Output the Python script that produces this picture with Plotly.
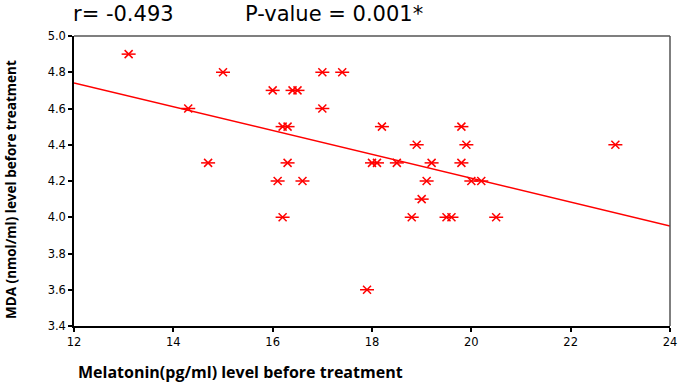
import numpy as np
import plotly.graph_objects as go

melatonin = [13.1, 14.3, 14.7, 15.0, 16.0, 16.1, 16.2, 16.2, 16.3, 16.3, 16.4, 16.5, 16.6,
             17.0, 17.0, 17.4, 17.9, 18.0, 18.1, 18.2, 18.5, 18.8, 18.9, 19.0, 19.1, 19.2,
             19.5, 19.6, 19.8, 19.8, 19.9, 20.0, 20.2, 20.5, 22.9]
mda = [4.9, 4.6, 4.3, 4.8, 4.7, 4.2, 4.0, 4.5, 4.5, 4.3, 4.7, 4.7, 4.2,
       4.8, 4.6, 4.8, 3.6, 4.3, 4.3, 4.5, 4.3, 4.0, 4.4, 4.1, 4.2, 4.3,
       4.0, 4.0, 4.5, 4.3, 4.4, 4.2, 4.2, 4.0, 4.4]
x_ticks = [12, 14, 16, 18, 20, 22, 24]
y_ticks = [3.4, 3.6, 3.8, 4.0, 4.2, 4.4, 4.6, 4.8, 5.0]
stats_text = ["r= -0.493", "P-value = 0.001*"]

slope, intercept = np.polyfit(melatonin, mda, 1)
line_x = [x_ticks[0], x_ticks[-1]]
line_y = [intercept + slope * v for v in line_x]

fig = go.Figure()
fig.add_trace(go.Scatter(x=line_x, y=line_y, mode="lines",
                         line=dict(color="#ff0000", width=1.5), showlegend=False))
fig.add_trace(go.Scatter(x=melatonin, y=mda, mode="markers",
                         marker=dict(symbol="x-thin-open", size=8, color="#ff0000",
                                     line=dict(color="#ff0000", width=1.5)),
                         showlegend=False))
fig.add_trace(go.Scatter(x=melatonin, y=mda, mode="markers",
                         marker=dict(symbol="line-ew-open", size=10, color="#ff0000",
                                     line=dict(color="#ff0000", width=1.5)),
                         showlegend=False))

tick_font = dict(family="DejaVu Sans", size=11.5, color="black")
fig.update_layout(
    width=678, height=382,
    margin=dict(l=74, r=8, t=36, b=56, autoexpand=False),
    paper_bgcolor="white", plot_bgcolor="white",
    font=dict(family="DejaVu Sans", size=12, color="black"),
)
fig.update_xaxes(range=[12, 24], tickvals=x_ticks, showgrid=False, zeroline=False,
                 showline=True, linecolor="black", linewidth=1.5, automargin=False,
                 ticks="outside", ticklen=4, tickcolor="black", tickwidth=1.5,
                 tickfont=tick_font)
fig.update_yaxes(range=[3.4, 5.0], tickvals=y_ticks, tickformat=".1f",
                 showgrid=False, zeroline=False, automargin=False,
                 showline=True, linecolor="black", linewidth=1.5,
                 ticks="outside", ticklen=4, tickcolor="black", tickwidth=1.5,
                 tickfont=tick_font)

# top and right frame lines
fig.add_shape(type="line", xref="paper", yref="paper", x0=0, x1=1, y0=1, y1=1,
              line=dict(color="#555555", width=1.5))
fig.add_shape(type="line", xref="paper", yref="paper", x0=1, x1=1, y0=0, y1=1,
              line=dict(color="#555555", width=1.5))

fig.add_annotation(text=stats_text[0], xref="paper", yref="paper", x=0, xshift=-3, y=1.0,
                   yshift=36, xanchor="left", yanchor="top", showarrow=False,
                   font=dict(size=21, family="DejaVu Sans"))
fig.add_annotation(text=stats_text[1], xref="paper", yref="paper", x=0, xshift=169, y=1.0,
                   yshift=36, xanchor="left", yanchor="top", showarrow=False,
                   font=dict(size=21, family="DejaVu Sans"))
fig.add_annotation(text="<b>MDA (nmol/ml) level before treatment</b>", xref="paper",
                   yref="paper", x=0, xshift=-63, y=0.469, textangle=-90,
                   xanchor="center", yanchor="middle", showarrow=False,
                   font=dict(size=13.5, family="Open Sans"))
fig.add_annotation(text="<b>Melatonin(pg/ml) level before treatment</b>", xref="paper",
                   yref="paper", x=0, xshift=2, y=0, yshift=-46, xanchor="left",
                   yanchor="middle", showarrow=False,
                   font=dict(size=16, family="Open Sans"))

fig.write_html("out.html", post_script="document.body.style.margin='0';",
               config={"displayModeBar": False})
